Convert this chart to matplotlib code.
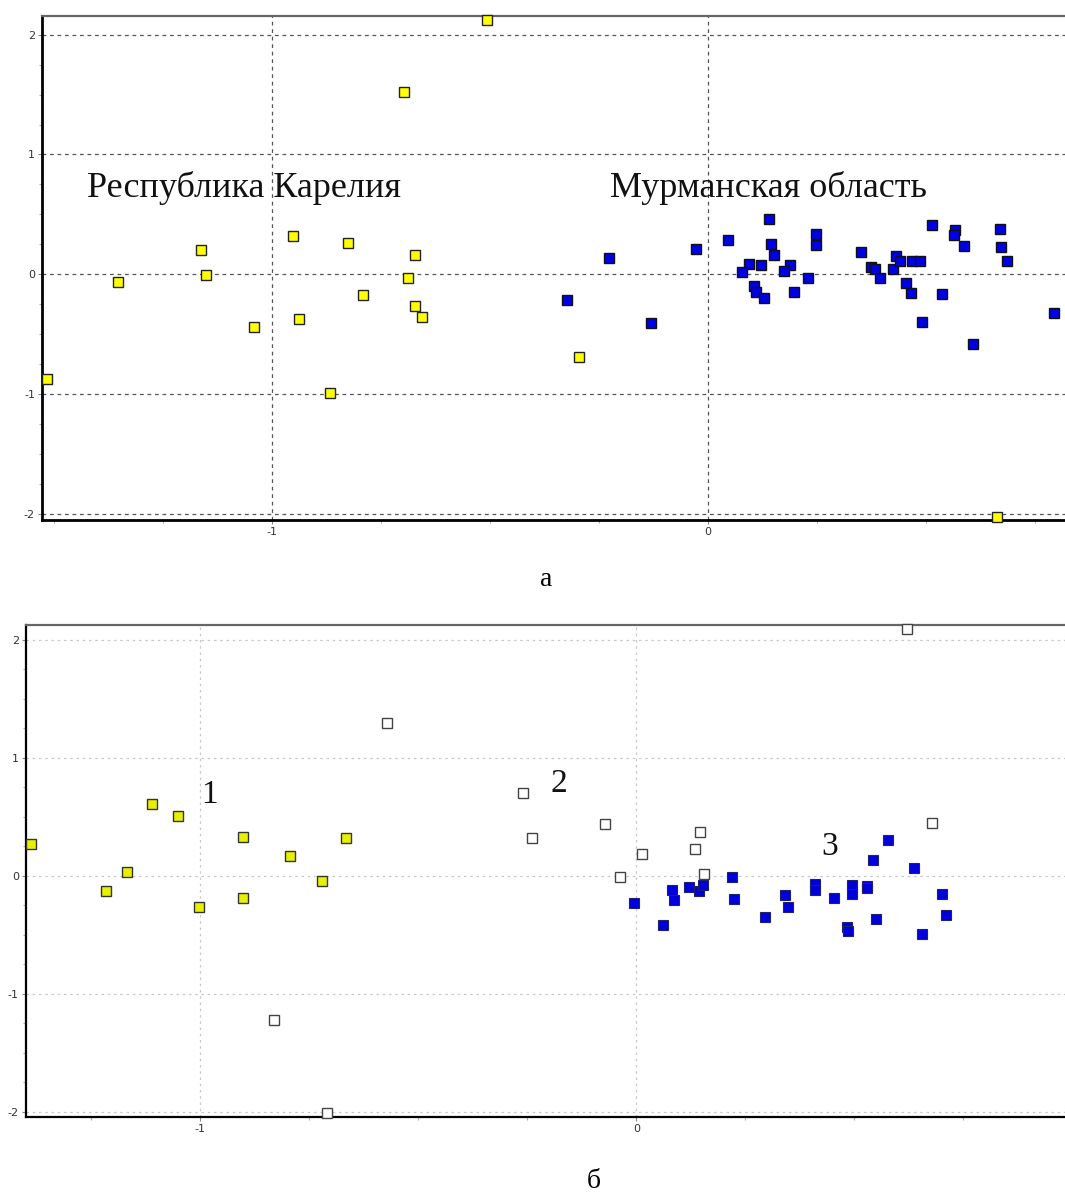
import matplotlib
matplotlib.use('Agg')
import matplotlib.pyplot as plt
from matplotlib.ticker import MultipleLocator

# --- panel a: two regions ---
karelia_x = [-0.506, -0.697, -1.164, -0.953, -0.825, -0.671, -1.353, -1.152, -1.042, -0.937,
             -0.866, -0.792, -0.689, -0.671, -0.656, -1.516, -0.296, 0.663]
karelia_y = [2.123, 1.524, 0.203, 0.315, 0.259, 0.156, -0.067, -0.008, -0.445, -0.373,
             -0.996, -0.178, -0.028, -0.270, -0.362, -0.873, -0.690, -2.025]

murmansk_x = [-0.324, -0.227, -0.131, -0.026, 0.046, 0.140, 0.145, 0.151, 0.094, 0.079,
              0.122, 0.189, 0.174, 0.229, 0.107, 0.110, 0.130, 0.197, 0.249, 0.249,
              0.351, 0.374, 0.383, 0.395, 0.426, 0.433, 0.441, 0.469, 0.487, 0.456,
              0.467, 0.492, 0.515, 0.568, 0.566, 0.589, 0.538, 0.609, 0.671, 0.673,
              0.686, 0.795]
murmansk_y = [-0.214, 0.131, -0.412, 0.214, 0.289, 0.465, 0.251, 0.159, 0.084, 0.019,
              0.075, 0.078, 0.028, -0.028, -0.100, -0.148, -0.203, -0.148, 0.334, 0.242,
              0.186, 0.056, 0.047, -0.036, 0.047, 0.150, 0.111, 0.111, 0.111, -0.075,
              -0.159, -0.401, 0.409, 0.373, 0.326, 0.234, -0.167, -0.585, 0.381, 0.223,
              0.111, -0.326]

# --- panel b: three clusters ---
cl1_x = [-1.389, -1.110, -1.051, -1.167, -1.216, -0.901, -0.795, -0.665, -0.720, -0.902, -1.003]
cl1_y = [0.265, 0.606, 0.505, 0.028, -0.127, 0.330, 0.166, 0.322, -0.045, -0.188, -0.263]

cl2_x = [-0.571, -0.260, -0.240, -0.830, -0.709, 0.621, -0.072, -0.037, 0.014, 0.145, 0.135, 0.155, 0.677]
cl2_y = [1.295, 0.700, 0.322, -1.220, -2.008, 2.085, 0.434, -0.008, 0.183, 0.370, 0.230, 0.013, 0.450]

cl3_x = [-0.005, 0.062, 0.082, 0.087, 0.121, 0.143, 0.153, 0.219, 0.224, 0.294,
         0.341, 0.348, 0.410, 0.410, 0.454, 0.494, 0.494, 0.528, 0.528, 0.550,
         0.482, 0.485, 0.656, 0.702, 0.710, 0.577, 0.543, 0.637]
cl3_y = [-0.229, -0.420, -0.118, -0.210, -0.092, -0.129, -0.083, -0.015, -0.200, -0.347,
         -0.164, -0.263, -0.068, -0.118, -0.190, -0.080, -0.155, -0.088, -0.105, -0.366,
         -0.438, -0.465, -0.493, -0.155, -0.330, 0.305, 0.130, 0.065]

serif = ['Liberation Serif', 'DejaVu Serif']
W, H = 1065, 1194
fig = plt.figure(figsize=(W / 100, H / 100), dpi=100)


def style_axes(ax, xlim, ylim, grid_color, grid_ls, spine_w):
    ax.set_xlim(*xlim)
    ax.set_ylim(*ylim)
    ax.set_xticks([-1, 0])
    ax.set_yticks([-2, -1, 0, 1, 2])
    ax.set_xticklabels(['-1', '0'])
    ax.set_yticklabels(['-2', '-1', '0', '1', '2'])
    ax.xaxis.set_minor_locator(MultipleLocator(0.25))
    ax.yaxis.set_minor_locator(MultipleLocator(0.25))
    ax.tick_params(which='major', direction='out', length=3, width=0.8, color='#888888',
                   labelsize=8, labelcolor='#333333', pad=2)
    ax.tick_params(which='minor', direction='out', length=2, width=0.8, color='#aaaaaa')
    ax.grid(True, which='major', color=grid_color, linestyle=grid_ls, linewidth=0.9)
    ax.set_axisbelow(True)
    ax.spines['left'].set_linewidth(spine_w)
    ax.spines['bottom'].set_linewidth(spine_w)
    ax.spines['left'].set_color('black')
    ax.spines['bottom'].set_color('black')
    ax.spines['top'].set_color('#666666')
    ax.spines['top'].set_linewidth(1.6)
    ax.spines['right'].set_visible(False)


# panel a
ax1 = fig.add_axes([42 / W, 1 - 520 / H, 1 - 42 / W, (520 - 16) / H])
style_axes(ax1, (-1.528, 0.820), (-2.054, 2.157), '#555555', (0, (3, 3)), 2.0)
ax1.plot(karelia_x, karelia_y, 's', ms=7, mfc='#ffff00', mec='#222222', mew=1.0,
         ls='none', clip_on=False, zorder=3)
ax1.plot(murmansk_x, murmansk_y, 's', ms=7, mfc='#0000e6', mec='#111111', mew=1.0,
         ls='none', clip_on=False, zorder=3)
ax1.text(-1.425, 0.718, 'Республика Карелия', family=serif, fontsize=26,
         ha='left', va='center', color='#111111')
ax1.text(-0.224, 0.718, 'Мурманская область', family=serif, fontsize=26,
         ha='left', va='center', color='#111111')

fig.text(546 / W, 1 - 580 / H, 'а', family=serif, fontsize=20, ha='center', va='center')

# panel b
ax2 = fig.add_axes([25.8 / W, 1 - 1116.7 / H, 1 - 25.8 / W, (1116.7 - 625) / H])
style_axes(ax2, (-1.400, 0.983), (-2.041, 2.123), '#c8c8c8', (0, (2, 3)), 1.6)
ax2.plot(cl1_x, cl1_y, 's', ms=6.5, mfc='#e6f000', mec='#333333', mew=1.0,
         ls='none', clip_on=False, zorder=3)
ax2.plot(cl2_x, cl2_y, 's', ms=6.5, mfc='white', mec='#444444', mew=1.0,
         ls='none', clip_on=False, zorder=3)
ax2.plot(cl3_x, cl3_y, 's', ms=6.5, mfc='#0000dd', mec='#22226a', mew=0.8,
         ls='none', clip_on=False, zorder=3)
for lx, ly, txt in [(-0.979, 0.683, '1'), (-0.177, 0.782, '2'), (0.443, 0.246, '3')]:
    ax2.text(lx, ly, txt, family=serif, fontsize=24, ha='center', va='center', color='#111111')

fig.text(594 / W, 1 - 1181 / H, 'б', family=serif, fontsize=20, ha='center', va='center')

fig.savefig('out.png', dpi=100)
